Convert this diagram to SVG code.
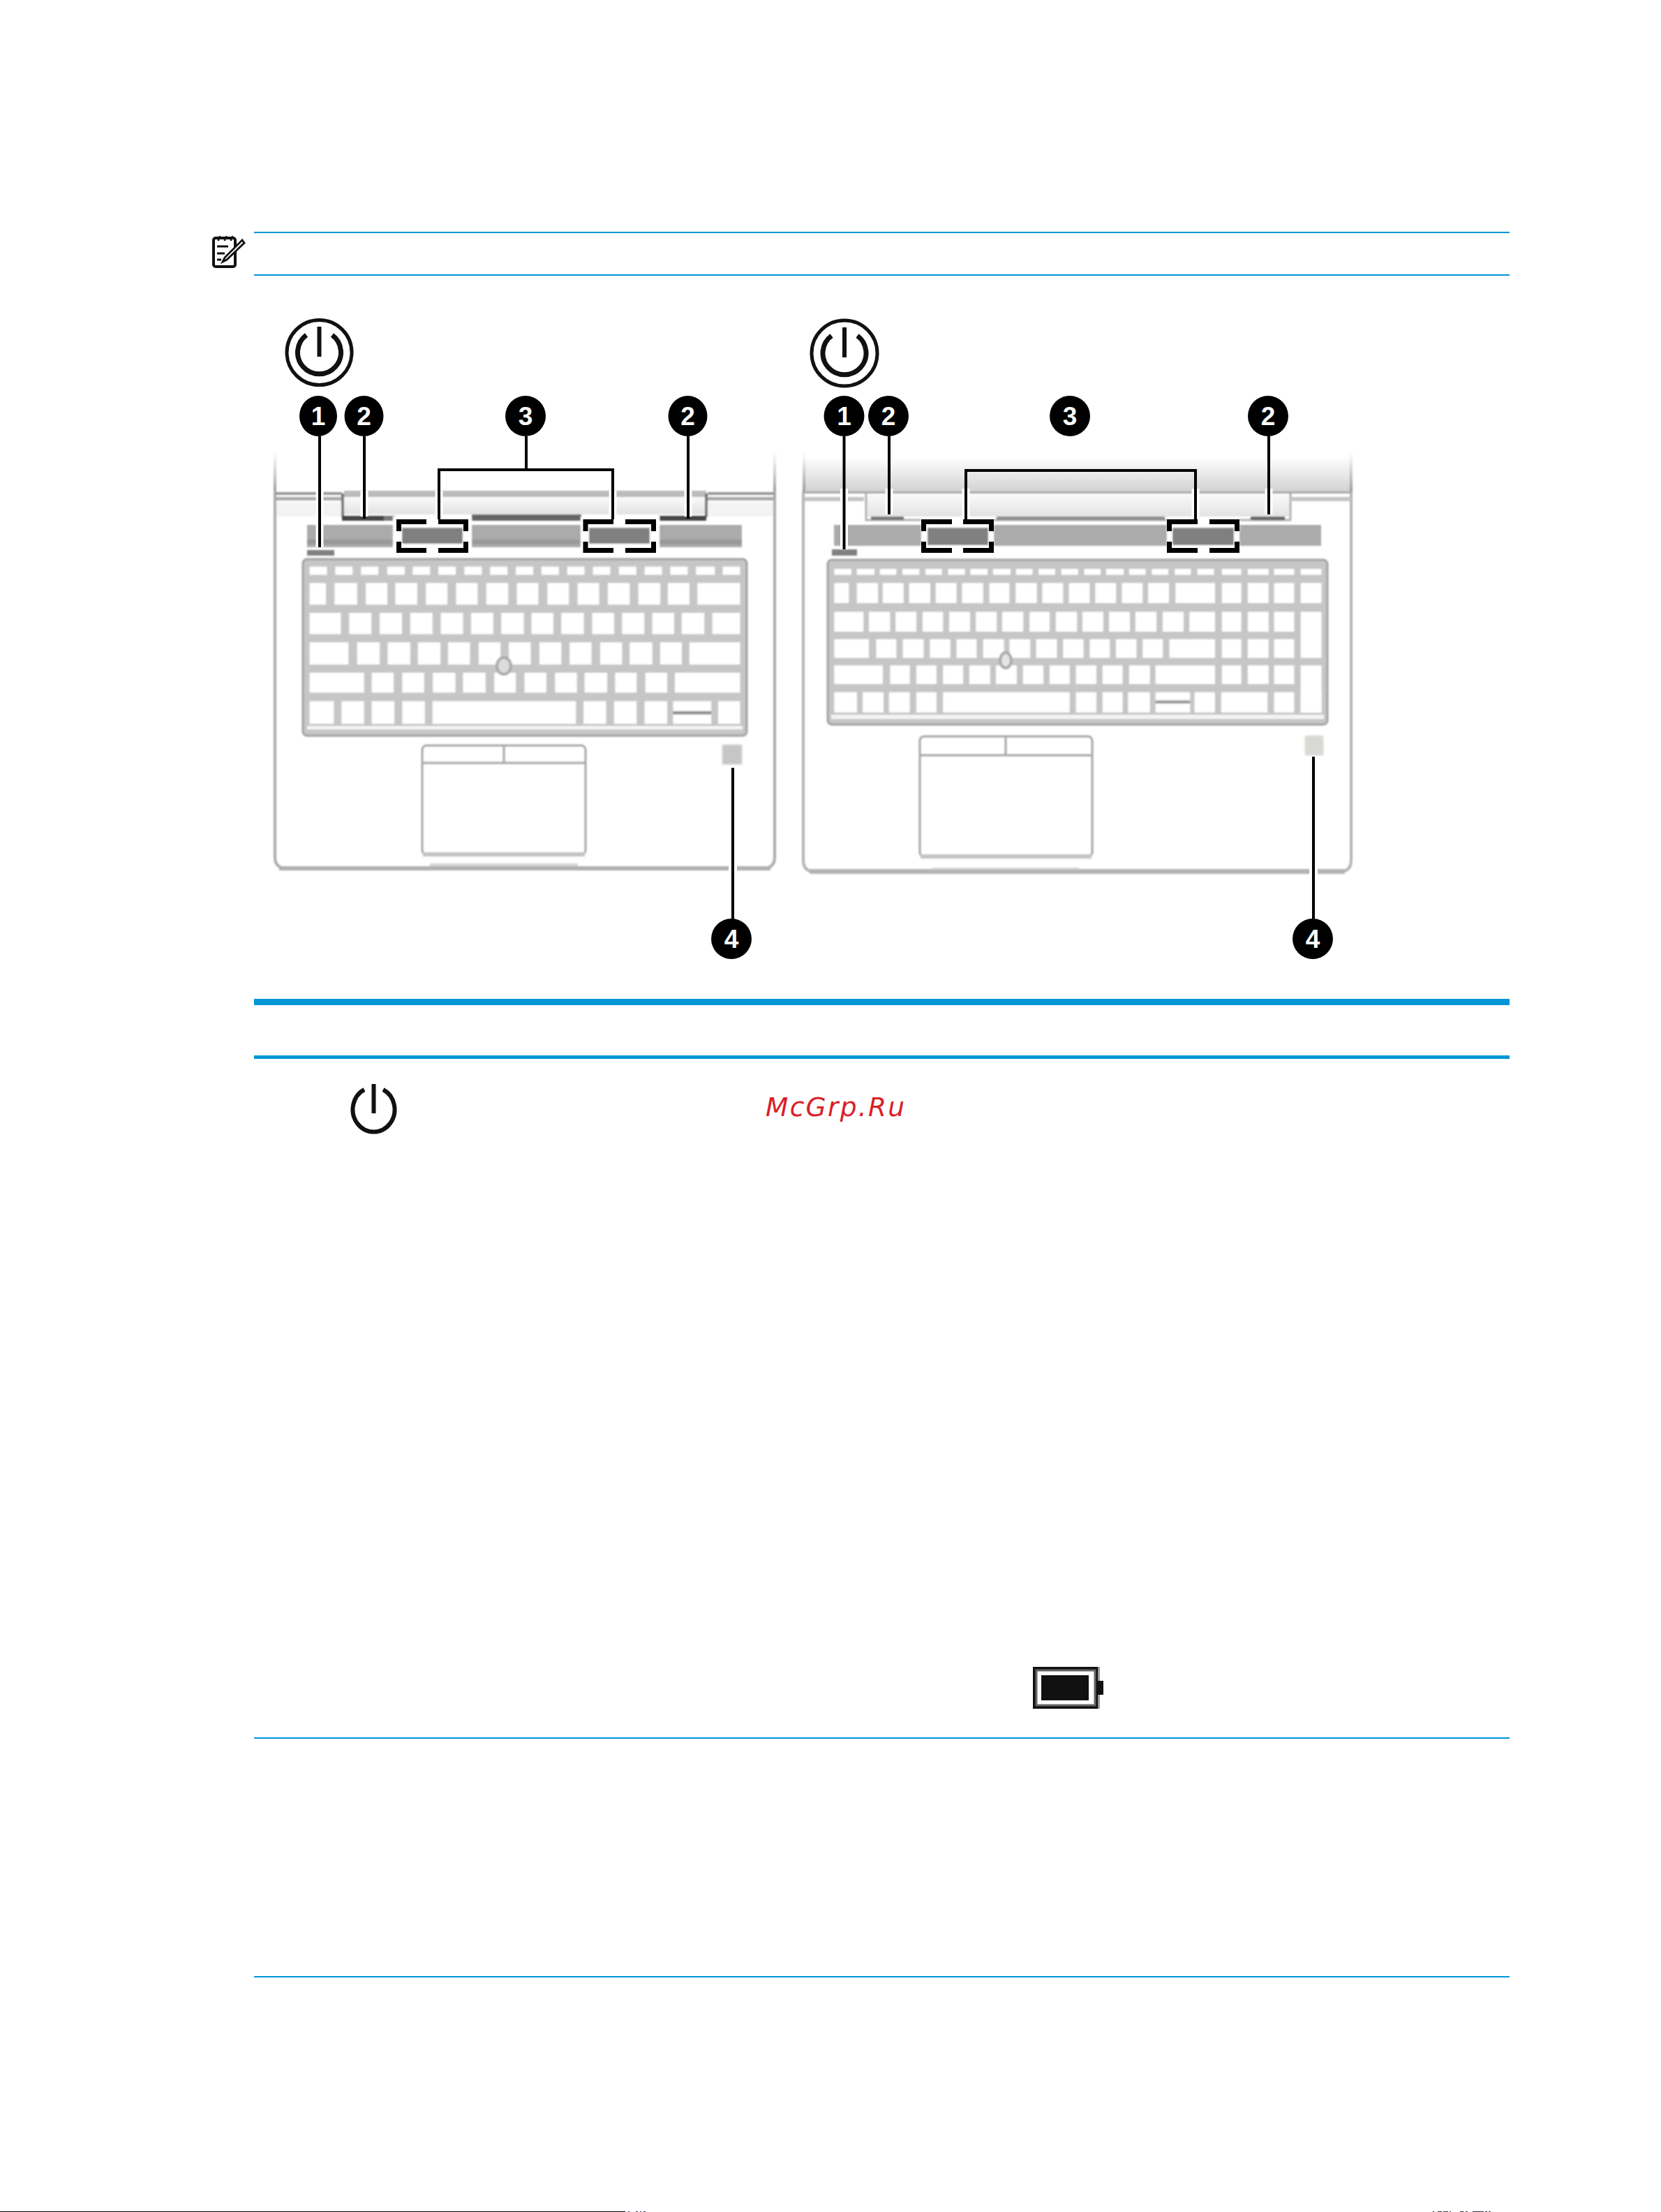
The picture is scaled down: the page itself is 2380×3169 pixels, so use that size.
<svg xmlns="http://www.w3.org/2000/svg" width="2380" height="3169" viewBox="0 0 2380 3169">
<style>
.rule{fill:#0096d6}
.kbbg{fill:#c6c6c6;stroke:#a2a2a2;stroke-width:3}
.keys{fill:#fff}
.gr{fill:none;stroke:#a6a6a6;stroke-width:3}
.lead{fill:none;stroke:#000;stroke-width:4}
.halo{fill:none;stroke:#fff;stroke-width:11}
.brk{fill:none;stroke:#000;stroke-width:7}
.pw{fill:none;stroke:#111}
.badge{fill:#000}
.num{fill:#fff;font-family:"Liberation Sans",sans-serif;font-weight:700;font-size:37px;text-anchor:middle}
.bar{fill:#ababab}
.spk{fill:#808080}
</style>
<defs>
<linearGradient id="fade" x1="0" y1="0" x2="0" y2="1"><stop offset="0" stop-color="#aaa" stop-opacity="0"/><stop offset="1" stop-color="#999"/></linearGradient>
<linearGradient id="lid" x1="0" y1="0" x2="0" y2="1"><stop offset="0" stop-color="#fff"/><stop offset="1" stop-color="#d2d2d2"/></linearGradient>
<linearGradient id="hinge" x1="0" y1="0" x2="0" y2="1"><stop offset="0" stop-color="#fafafa"/><stop offset="1" stop-color="#e2e2e2"/></linearGradient>
<filter id="soft" x="-5%" y="-5%" width="110%" height="110%"><feGaussianBlur stdDeviation="1.1"/></filter>
</defs>
<rect width="2380" height="3169" fill="#fff"/>

<g id="note-icon" fill="none" stroke="#111">
<rect x="306" y="341" width="31" height="41" rx="3" stroke-width="4"/>
<path d="M313 345q0-6 3-6M322 345q0-6 3-6M331 345q0-6 3-6" stroke-width="2.500"/>
<path d="M311 353H327M311 363H322M311 372H317" stroke-width="3"/>
<path d="M347 344L322 369L319 375L325 372L350 348Z" fill="#fff" stroke-width="2.800"/>
</g>
<rect class="rule" x="364" y="332" width="1799" height="2"/>
<rect class="rule" x="364" y="393" width="1799" height="2"/>
<rect class="rule" x="364" y="1431" width="1799" height="9"/>
<rect class="rule" x="364" y="1512" width="1799" height="5"/>
<rect class="rule" x="364" y="2489" width="1799" height="2"/>
<rect class="rule" x="364" y="2831" width="1799" height="2"/>

<g id="laptop-left">
<g filter="url(#soft)">
<rect x="392" y="646" width="4" height="60" fill="url(#fade)"/>
<rect x="1108" y="646" width="4" height="60" fill="url(#fade)"/>
<path d="M394 703V1228Q394 1244 411 1244H1093Q1110 1244 1110 1228V703" fill="none" stroke="#acacac" stroke-width="4"/>
<rect x="400" y="1241" width="704" height="6" fill="#b0b0b0"/>
<rect x="616" y="1237" width="212" height="4" fill="#d6d6d6"/>
<rect x="396" y="720" width="94" height="20" fill="#f3f3f3"/>
<rect x="1014" y="720" width="94" height="20" fill="#f3f3f3"/>
<rect x="394" y="705" width="96" height="4" fill="#999"/>
<rect x="394" y="712" width="96" height="5" fill="#aaa"/>
<rect x="1014" y="705" width="96" height="4" fill="#999"/>
<rect x="1014" y="712" width="96" height="5" fill="#aaa"/>
<rect x="493" y="703" width="519" height="9" fill="#bbb"/>
<rect x="493" y="712" width="519" height="25" fill="url(#hinge)"/>
<path d="M491 707V741M1012 707V741" stroke="#777" stroke-width="4" fill="none"/>
<rect x="490" y="739" width="60" height="7" fill="#444"/>
<rect x="550" y="739" width="16" height="7" fill="#777"/>
<rect x="676" y="737" width="157" height="9" fill="#666"/>
<rect x="945" y="739" width="67" height="7" fill="#444"/>
<rect class="bar" x="440" y="752" width="623" height="32"/>
<rect x="440" y="773" width="623" height="7" fill="#999"/>
<rect x="440" y="788" width="39" height="8" fill="#808080"/>
<rect x="563" y="740" width="113" height="55" fill="#fff"/>
<rect x="832" y="740" width="113" height="55" fill="#fff"/>
<rect class="spk" x="576" y="756" width="87" height="23"/>
<rect class="spk" x="844" y="756" width="87" height="23"/>
</g>
<g filter="url(#soft)">
<rect class="kbbg" x="434" y="801" width="636" height="253" rx="6"/>
<rect x="440" y="1040" width="624" height="5" fill="#f4f4f4"/>
<g transform="translate(360 780) scale(.4975 .3954)">
<path class="keys" d="M168 80H218V110H168ZM242 80H292V110H242ZM316 80H366V110H316ZM392 80H442V110H392ZM465 80H515V110H465ZM539 80H589V110H539ZM614 80H664V110H614ZM688 80H738V110H688ZM762 80H812V110H762ZM836 80H886V110H836ZM910 80H960V110H910ZM984 80H1034V110H984ZM1059 80H1109V110H1059ZM1133 80H1183V110H1133ZM1207 80H1257V110H1207ZM1281 80H1335V110H1281ZM1358 80H1408V110H1358Z"/>
<path class="keys" d="M168 140H215V218H168ZM240 140H305V218H240ZM330 140H392V218H330ZM415 140H478V218H415ZM503 140H565V218H503ZM590 140H652V218H590ZM677 140H740V218H677ZM765 140H827V218H765ZM853 140H915V218H853ZM940 140H1002V218H940ZM1027 140H1090V218H1027ZM1115 140H1178V218H1115ZM1200 140H1262V218H1200ZM1285 140H1408V218H1285Z"/>
<path class="keys" d="M168 248H258V325H168ZM282 248H346V325H282ZM370 248H434V325H370ZM458 248H522V325H458ZM546 248H610V325H546ZM633 248H697V325H633ZM720 248H785V325H720ZM807 248H870V325H807ZM893 248H958V325H893ZM982 248H1045V325H982ZM1068 248H1132V325H1068ZM1155 248H1218V325H1155ZM1240 248H1305V325H1240ZM1328 248H1408V325H1328Z"/>
<path class="keys" d="M168 355H280V435H168ZM305 355H370V435H305ZM393 355H458V435H393ZM480 355H545V435H480ZM567 355H630V435H567ZM655 355H718V435H655ZM742 355H805V435H742ZM830 355H893V435H830ZM917 355H980V435H917ZM1005 355H1068V435H1005ZM1090 355H1155V435H1090ZM1178 355H1240V435H1178ZM1262 355H1408V435H1262Z"/>
<path class="keys" d="M168 465H325V537H168ZM347 465H410V537H347ZM435 465H498V537H435ZM523 465H588V537H523ZM610 465H675V537H610ZM700 465H762V537H700ZM787 465H850V537H787ZM875 465H938V537H875ZM960 465H1025V537H960ZM1048 465H1110V537H1048ZM1135 465H1198V537H1135ZM1220 465H1408V537H1220Z"/>
<path class="keys" d="M168 568H238V650H168ZM260 568H325V650H260ZM347 568H412V650H347ZM435 568H500V650H435ZM522 568H935V650H522ZM957 568H1022V650H957ZM1045 568H1110V650H1045ZM1133 568H1198V650H1133ZM1215 568H1325V650H1215ZM1345 568H1408V650H1345Z"/>
<rect x="1215" y="604" width="110" height="12" fill="#8e8e8e"/>
</g>
<ellipse cx="722" cy="954" rx="10" ry="12" fill="#dcdcdc" stroke="#aaa" stroke-width="4"/>
<rect class="gr" x="605" y="1068" width="234" height="156" rx="6"/>
<path d="M605 1093H839M722 1068V1093" class="gr"/>
<rect x="606" y="1221" width="232" height="6" fill="#c4c4c4"/>
<rect x="1035" y="1067" width="28" height="28" rx="2" fill="#c6c6c6" stroke="#dedede" stroke-width="2"/>
</g>
<rect x="1044" y="1236" width="12" height="14" fill="#fff"/>
</g>

<g id="laptop-right">
<g filter="url(#soft)">
<rect x="1152" y="655" width="784" height="49" fill="url(#lid)"/>
<rect x="1150" y="648" width="4" height="56" fill="url(#fade)"/>
<rect x="1934" y="648" width="4" height="56" fill="url(#fade)"/>
<path d="M1151 704V1232Q1151 1249 1168 1249H1919Q1936 1249 1936 1232V704" fill="none" stroke="#b4b4b4" stroke-width="4"/>
<rect x="1160" y="1245" width="767" height="7" fill="#b4b4b4"/>
<rect x="1336" y="1243" width="210" height="3" fill="#d4d4d4"/>
<rect x="1152" y="704" width="784" height="3" fill="#a8a8a8"/>
<rect x="1152" y="712" width="86" height="6" fill="#c4c4c4"/>
<rect x="1851" y="712" width="85" height="6" fill="#c4c4c4"/>
<rect x="1243" y="708" width="604" height="32" fill="url(#hinge)"/>
<path d="M1241 707V745H1849V707" fill="none" stroke="#b0b0b0" stroke-width="3"/>
<rect x="1248" y="740" width="47" height="5" fill="#777"/>
<rect x="1428" y="740" width="241" height="5" fill="#8e8e8e"/>
<rect x="1792" y="740" width="49" height="5" fill="#666"/>
<rect class="bar" x="1195" y="752" width="698" height="30"/>
<rect x="1192" y="787" width="36" height="9" fill="#808080"/>
<rect x="1320" y="740" width="104" height="55" fill="#fff"/>
<rect x="1672" y="740" width="104" height="55" fill="#fff"/>
<rect class="spk" x="1329" y="756" width="87" height="25"/>
<rect class="spk" x="1680" y="756" width="88" height="25"/>
</g>
<g filter="url(#soft)">
<rect class="kbbg" x="1186" y="802" width="716" height="236" rx="6" stroke="#c4c4c4"/>
<rect x="1191" y="1024" width="706" height="6" fill="#f4f4f4"/>
<g transform="translate(1130 430) scale(.523 .3571)">
<path class="keys" d="M125 1078H172V1102H125ZM187 1078H235V1102H187ZM250 1078H295V1102H250ZM312 1078H358V1102H312ZM375 1078H420V1102H375ZM437 1078H483V1102H437ZM498 1078H545V1102H498ZM560 1078H608V1102H560ZM623 1078H668V1102H623ZM685 1078H730V1102H685ZM747 1078H793V1102H747ZM810 1078H855V1102H810ZM870 1078H918V1102H870ZM933 1078H978V1102H933ZM995 1078H1040V1102H995ZM1058 1078H1102V1102H1058ZM1120 1078H1165V1102H1120ZM1187 1078H1240V1102H1187ZM1258 1078H1315V1102H1258ZM1330 1078H1385V1102H1330ZM1403 1078H1460V1102H1403Z"/>
<path class="keys" d="M125 1135H165V1215H125ZM187 1135H245V1215H187ZM258 1135H315V1215H258ZM330 1135H388V1215H330ZM403 1135H460V1215H403ZM475 1135H533V1215H475ZM550 1135H605V1215H550ZM622 1135H680V1215H622ZM695 1135H752V1215H695ZM768 1135H825V1215H768ZM840 1135H897V1215H840ZM913 1135H970V1215H913ZM985 1135H1042V1215H985ZM1060 1135H1168V1215H1060ZM1187 1135H1240V1215H1187ZM1258 1135H1315V1215H1258ZM1330 1135H1385V1215H1330ZM1403 1135H1460V1215H1403Z"/>
<path class="keys" d="M125 1250H205V1330H125ZM220 1250H278V1330H220ZM293 1250H350V1330H293ZM367 1250H423V1330H367ZM440 1250H497V1330H440ZM513 1250H570V1330H513ZM585 1250H643V1330H585ZM660 1250H715V1330H660ZM732 1250H790V1330H732ZM805 1250H862V1330H805ZM878 1250H935V1330H878ZM950 1250H1008V1330H950ZM1025 1250H1082V1330H1025ZM1098 1250H1168V1330H1098ZM1187 1250H1240V1330H1187ZM1258 1250H1315V1330H1258ZM1330 1250H1385V1330H1330ZM1403 1250H1460V1435H1403Z"/>
<path class="keys" d="M125 1360H220V1435H125ZM240 1360H295V1435H240ZM313 1360H370V1435H313ZM387 1360H443V1435H387ZM460 1360H515V1435H460ZM533 1360H590V1435H533ZM605 1360H662V1435H605ZM678 1360H735V1435H678ZM752 1360H808V1435H752ZM825 1360H880V1435H825ZM897 1360H953V1435H897ZM970 1360H1025V1435H970ZM1043 1360H1168V1435H1043ZM1187 1360H1240V1435H1187ZM1258 1360H1315V1435H1258ZM1330 1360H1385V1435H1330Z"/>
<path class="keys" d="M125 1465H258V1540H125ZM278 1465H332V1540H278ZM350 1465H405V1540H350ZM423 1465H478V1540H423ZM495 1465H552V1540H495ZM568 1465H625V1540H568ZM642 1465H698V1540H642ZM715 1465H770V1540H715ZM787 1465H843V1540H787ZM860 1465H915V1540H860ZM933 1465H990V1540H933ZM1005 1465H1168V1540H1005ZM1187 1465H1240V1540H1187ZM1258 1465H1315V1540H1258ZM1330 1465H1385V1540H1330ZM1403 1465H1460V1655H1403Z"/>
</g>
<g transform="translate(1130 960) scale(.523 .3333)">
<path class="keys" d="M125 95H187V182H125ZM203 95H260V182H203ZM275 95H332V182H275ZM350 95H405V182H350ZM423 95H770V182H423ZM787 95H843V182H787ZM860 95H915V182H860ZM930 95H990V182H930ZM1005 95H1100V182H1005ZM1112 95H1168V182H1112ZM1185 95H1312V182H1185ZM1330 95H1385V182H1330ZM1403 95H1460V182H1403Z"/>
<rect x="1005" y="130" width="95" height="14" fill="#9c9c9c"/>
</g>
<ellipse cx="1441" cy="946" rx="8" ry="11" fill="#e4e4e4" stroke="#aaa" stroke-width="4"/>
<rect class="gr" x="1318" y="1055" width="247" height="172" rx="6"/>
<path d="M1318 1082H1565M1441 1055V1082" class="gr"/>
<rect x="1319" y="1224" width="245" height="6" fill="#c4c4c4"/>
<rect x="1870" y="1054" width="26" height="28" rx="3" fill="#d8d8d4" stroke="#e4e4e2" stroke-width="2"/>
</g>
<rect x="1876" y="1240" width="12" height="14" fill="#fff"/>
</g>

<g id="connectors">
<path class="halo" d="M458 703V784M522 703V740M629 703V744M878 703V744M986 703V740M1209.500 700V787M1274 700V737M1384 700V744M1713 700V744M1818 700V737"/>
<path class="lead" d="M458 625V784M522 625V743M754 625V673M629 744V673H878V744M986 625V743M1050 1100V1318"/>
<path class="lead" d="M1209.500 625V787M1274 625V737M1384 744V674H1713V744M1818 625V737M1882 1084V1317"/>
</g>

<g id="brackets">
<path class="brk" d="M611 747.500H571.500V761M628 747.500H667.500V761M611 788.500H571.500V776M628 788.500H667.500V776"/>
<path class="brk" d="M879 747.500H839V761M896 747.500H936.500V761M879 788.500H839V776M896 788.500H936.500V776"/>
<path class="brk" d="M1364 747.500H1323.500V761M1380 747.500H1420.500V761M1364 788.500H1323.500V776M1380 788.500H1420.500V776"/>
<path class="brk" d="M1716 747.500H1675.500V761M1733 747.500H1772.500V761M1716 788.500H1675.500V776M1733 788.500H1772.500V776"/>
</g>

<g id="power-left"><circle class="pw" cx="457.500" cy="505" r="46.500" stroke-width="5"/><path class="pw" stroke-width="7" d="M439 480A31 31 0 1 0 476 480"/><path class="pw" stroke-width="6" d="M457.500 468V511"/></g>
<g id="power-right"><circle class="pw" cx="1210" cy="506" r="47" stroke-width="5"/><path class="pw" stroke-width="7" d="M1191.500 481A31 31 0 1 0 1228.500 481"/><path class="pw" stroke-width="6" d="M1210 469V512"/></g>

<g id="badge-l1"><ellipse class="badge" cx="456" cy="596" rx="27" ry="29"/><text class="num" x="456" y="609">1</text></g>
<g id="badge-l2a"><ellipse class="badge" cx="521.500" cy="596" rx="28" ry="29"/><text class="num" x="521.500" y="609">2</text></g>
<g id="badge-l3"><ellipse class="badge" cx="753" cy="596" rx="29" ry="29"/><text class="num" x="753" y="609">3</text></g>
<g id="badge-l2b"><ellipse class="badge" cx="985.500" cy="596" rx="28" ry="29"/><text class="num" x="985.500" y="609">2</text></g>
<g id="badge-l4"><ellipse class="badge" cx="1048" cy="1345" rx="29" ry="29"/><text class="num" x="1048" y="1358">4</text></g>
<g id="badge-r1"><ellipse class="badge" cx="1209.500" cy="596" rx="29" ry="29"/><text class="num" x="1209.500" y="609">1</text></g>
<g id="badge-r2a"><ellipse class="badge" cx="1273" cy="596" rx="29" ry="29"/><text class="num" x="1273" y="609">2</text></g>
<g id="badge-r3"><ellipse class="badge" cx="1533" cy="596" rx="29" ry="29"/><text class="num" x="1533" y="609">3</text></g>
<g id="badge-r2b"><ellipse class="badge" cx="1817" cy="596" rx="29" ry="29"/><text class="num" x="1817" y="609">2</text></g>
<g id="badge-r4"><ellipse class="badge" cx="1881" cy="1345" rx="29" ry="29"/><text class="num" x="1881" y="1358">4</text></g>

<g id="power-table"><path class="pw" stroke-width="6" d="M522 1561A30 32 0 1 0 549 1561"/><path class="pw" stroke-width="6" d="M535.500 1553V1595"/></g>
<text id="watermark" x="1097" y="1599" font-family="'DejaVu Sans',sans-serif" font-style="oblique" font-size="37.500" letter-spacing="2.300" fill="#d92027">McGrp.Ru</text>

<g id="battery">
<rect x="1482" y="2390" width="90" height="56" fill="#fff" stroke="#111" stroke-width="4"/>
<rect x="1485" y="2393" width="84" height="50" fill="none" stroke="#666" stroke-width="3"/>
<rect x="1492" y="2400" width="68" height="36" fill="#111"/>
<rect x="1573" y="2388" width="3" height="60" fill="#999"/>
<rect x="1572" y="2408" width="9" height="20" fill="#111"/>
</g>

<g id="page-edge">
<rect x="0" y="3168" width="896" height="1" fill="#000"/>
<path d="M900 3168h2v1h-2zM911 3168h3v1h-3zM917 3168h2v1h-2zM922 3168h3v1h-3zM2053 3168h2v1h-2zM2060 3168h6v1h-6zM2068 3168h7v1h-7zM2077 3168h2v1h-2zM2092 3168h5v1h-5zM2100 3168h3v1h-3zM2110 3168h16v1h-16zM2128 3168h3v1h-3zM2133 3168h3v1h-3z" fill="#334"/>
</g>
</svg>
